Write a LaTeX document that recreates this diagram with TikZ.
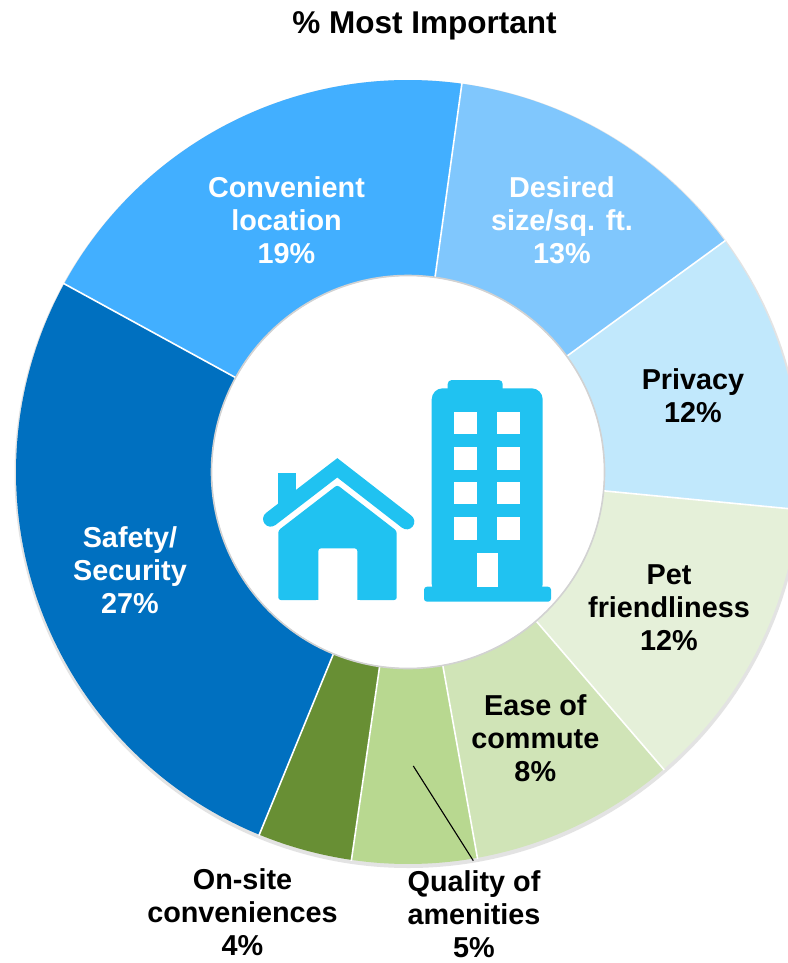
\documentclass[tikz,border=0pt]{standalone}
\usepackage{fontspec}
\setmainfont{Liberation Sans}
\definecolor{cConv}{RGB}{66,175,255}
\definecolor{cDes}{RGB}{128,199,253}
\definecolor{cPriv}{RGB}{193,232,252}
\definecolor{cPet}{RGB}{229,240,217}
\definecolor{cEase}{RGB}{208,228,183}
\definecolor{cQual}{RGB}{184,216,144}
\definecolor{cOnsite}{RGB}{104,143,52}
\definecolor{cSafe}{RGB}{0,112,192}
\definecolor{iconblue}{RGB}{32,194,241}
\newcommand{\donutslice}[3]{\fill[#1] (#2:196) -- (#2:392) arc[start angle=#2, end angle=#3, radius=392] -- (#3:196) arc[start angle=#3, end angle=#2, radius=196] -- cycle;}
\begin{document}
\begin{tikzpicture}[x=1bp,y=-1bp,
  lbl/.style={font=\bfseries\fontsize{28.8bp}{33bp}\selectfont, align=center, anchor=base, inner sep=0pt},
  wlbl/.style={lbl, text=white},
  blbl/.style={lbl, text=black},
  sepline/.style={white, line width=1.6bp},
  iconfill/.style={fill=iconblue},
  holefill/.style={fill=white},
  leader/.style={black, line width=1.1bp}]
\useasboundingbox (0,0) rectangle (788,963);
\fill[white] (0,0) rectangle (788,963);
\clip (0,0) rectangle (788,963);
% title
\node[font=\bfseries\fontsize{31.5bp}{36bp}\selectfont, anchor=base, inner sep=0pt] (title) at (424.5,33.3) {\% Most Important};
% donut
\begin{scope}[shift={(408,472)}, yscale=-1]
  \fill[gray!22] (0.5,-2) circle[radius=394];
  \donutslice{cDes}{82.1}{36.1}
  \donutslice{cPriv}{36.1}{-5.5}
  \donutslice{cPet}{-5.5}{-49.3}
  \donutslice{cEase}{-49.3}{-79.8}
  \donutslice{cQual}{-79.8}{-98.3}
  \donutslice{cOnsite}{-98.3}{-112.3}
  \donutslice{cSafe}{-112.3}{-208.7}
  \donutslice{cConv}{-208.7}{-277.9}
  \foreach \a in {82.1,36.1,-5.5,-49.3,-79.8,-98.3,-112.3,-208.7}
    \draw[sepline] (\a:195) -- (\a:393);
  \fill[white] (0,0) circle[radius=196];
  \draw[gray!35, line width=1.6bp] (0,0) circle[radius=196.5];
\end{scope}
% building
\fill[iconfill, rounded corners=4bp] (447.7,380) rectangle (502.7,400);
\fill[iconfill, rounded corners=11bp] (431.7,388.3) rectangle (542.7,595);
\fill[iconfill, rounded corners=3bp] (424,586.7) rectangle (551,601.7);
\foreach \xa/\xb in {454/477,497.3/520.3}
  \foreach \ya/\yb in {411.7/434,447.3/470,481.7/504.3,517.3/540}
    \fill[holefill] (\xa,\ya) rectangle (\xb,\yb);
\fill[holefill] (477,552.7) rectangle (497.7,586.8);
% house
\fill[iconfill] (278.3,473.3) rectangle (296,505);
\draw[iconblue, line width=15.3bp, line cap=round, line join=miter] (270.7,519) -- (337.3,467.8) -- (406.7,521.7);
\fill[iconfill, rounded corners=2.5bp] (278.3,600) -- (278.3,530.4) -- (337.3,485) -- (396.7,530.9) -- (396.7,600) -- cycle;
\fill[holefill, rounded corners=3bp] (318.3,601) -- (318.3,548.3) -- (357.3,548.3) -- (357.3,601);
\fill[white] (316,600) rectangle (360,603);
% labels (anchor = baseline of the last line)
\node[wlbl] (conv) at (286.5,263.8) {Convenient\\location\\19\%};
\node[wlbl] (des) at (562,263.8) {Desired\\size/sq. ft.\\13\%};
\node[blbl] (priv) at (693,422.7) {Privacy\\12\%};
\node[blbl] (pet) at (669,650) {Pet\\friendliness\\12\%};
\node[blbl] (ease) at (535.3,781) {Ease of\\commute\\8\%};
\node[wlbl] (safe) at (130,613.3) {Safety/\\Security\\27\%};
\node[blbl] (onsite) at (242.5,955.5) {On-site\\conveniences\\4\%};
\node[blbl] (qual) at (474,957.5) {Quality of\\amenities\\5\%};
% leader line
\coordinate (qa) at (413.3,766);
\coordinate (qb) at (473.3,860.7);
\draw[leader] (qa) -- (qb);
\end{tikzpicture}
\end{document}
